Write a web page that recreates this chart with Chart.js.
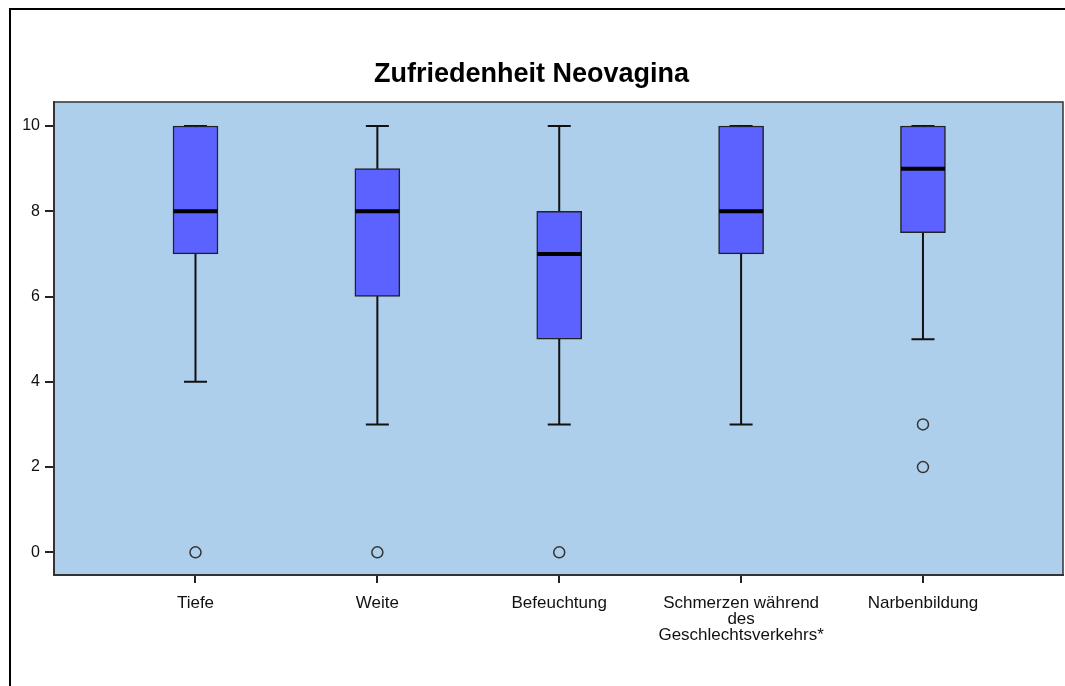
<!DOCTYPE html>
<html>
<head>
<meta charset="utf-8">
<script src="https://cdn.jsdelivr.net/npm/chart.js@4"></script>
<style>
    html, body { margin: 0; padding: 0; background: #fff; }
    #wrap { position: relative; width: 1065px; height: 686px; overflow: hidden; }
    #frame { position: absolute; left: 9px; top: 8px; width: 1100px; height: 700px;
             border-left: 2px solid #000; border-top: 2px solid #000; pointer-events: none; }
    canvas { position: absolute; left: 0; top: 0; }
</style>
</head>
<body>
<div id="wrap">
    <canvas id="boxChart" width="1065" height="686"></canvas>
    <div id="frame"></div>
</div>
<script>
// Data
const categories = ['Tiefe', 'Weite', 'Befeuchtung', ['Schmerzen während', 'des', 'Geschlechtsverkehrs*'], 'Narbenbildung'];
const whiskerLow  = [4, 3, 3, 3, 5];
const quartile1   = [7, 6, 5, 7, 7.5];
const medians     = [8, 8, 7, 8, 9];
const quartile3   = [10, 9, 8, 10, 10];
const whiskerHigh = [10, 10, 10, 10, 10];
// outliers: [category index, value]
const outliers = [[0, 0], [1, 0], [2, 0], [4, 3], [4, 2]];
const yTicks = [0, 2, 4, 6, 8, 10];

const PLOT_BG = '#aecfec';
const BOX_FILL = '#5b62ff';
const LINE = '#111';

// Background + frame of the plot area
const plotArea = {
    id: 'plotArea',
    beforeDraw(chart) {
        const { ctx, chartArea: a } = chart;
        ctx.save();
        ctx.fillStyle = PLOT_BG;
        ctx.fillRect(a.left, a.top, a.right - a.left, a.bottom - a.top);
        ctx.restore();
    },
    afterDraw(chart) {
        const { ctx, chartArea: a } = chart;
        ctx.save();
        ctx.strokeStyle = '#333';
        ctx.lineWidth = 1.5;
        ctx.beginPath();
        ctx.moveTo(a.left, a.top);
        ctx.lineTo(a.right, a.top);
        ctx.lineTo(a.right, a.bottom);
        ctx.stroke();
        ctx.restore();
    }
};

// Whiskers and medians, placed through the chart scales
const boxParts = {
    id: 'boxParts',
    beforeDatasetsDraw(chart) {
        const { ctx, scales: { x, y } } = chart;
        ctx.save();
        ctx.strokeStyle = LINE;
        ctx.lineWidth = 2;
        categories.forEach((c, i) => {
            const px = x.getPixelForValue(i + 1);
            const yLo = y.getPixelForValue(whiskerLow[i]);
            const yHi = y.getPixelForValue(whiskerHigh[i]);
            ctx.beginPath();
            ctx.moveTo(px, yLo);
            ctx.lineTo(px, yHi);
            ctx.moveTo(px - 11.5, yLo);
            ctx.lineTo(px + 11.5, yLo);
            ctx.moveTo(px - 11.5, yHi);
            ctx.lineTo(px + 11.5, yHi);
            ctx.stroke();
        });
        ctx.restore();
    },
    afterDatasetsDraw(chart) {
        const { ctx, scales: { x, y } } = chart;
        ctx.save();
        ctx.strokeStyle = '#000';
        ctx.lineWidth = 4;
        categories.forEach((c, i) => {
            const px = x.getPixelForValue(i + 1);
            const py = y.getPixelForValue(medians[i]);
            ctx.beginPath();
            ctx.moveTo(px - 22, py);
            ctx.lineTo(px + 22, py);
            ctx.stroke();
        });
        ctx.restore();
    }
};

const boxData = categories.map((c, i) => ({ x: i + 1, y: [quartile1[i], quartile3[i]] }));
const outlierData = outliers.map(o => ({ x: o[0] + 1, y: o[1] }));

new Chart(document.getElementById('boxChart').getContext('2d'), {
    type: 'bar',
    data: {
        datasets: [
            {
                type: 'scatter',
                data: outlierData,
                pointStyle: 'circle',
                pointRadius: 5.5,
                backgroundColor: 'rgba(0,0,0,0)',
                borderColor: '#333',
                borderWidth: 1.5,
                order: 0
            },
            {
                data: boxData,
                backgroundColor: BOX_FILL,
                borderColor: '#222',
                borderWidth: 1.5,
                borderSkipped: false,
                barThickness: 45,
                order: 1
            }
        ]
    },
    plugins: [plotArea, boxParts],
    options: {
        responsive: false,
        animation: false,
        layout: { autoPadding: false, padding: { left: 0, right: 2, top: 0, bottom: 0 } },
        plugins: {
            legend: { display: false },
            tooltip: { enabled: false },
            title: {
                display: true,
                text: 'Zufriedenheit Neovagina',
                color: '#000',
                font: { family: 'Liberation Sans, Arial, sans-serif', size: 27, weight: 'bold', lineHeight: 1.2 },
                padding: { top: 58, bottom: 11.6 }
            }
        },
        scales: {
            x: {
                type: 'linear',
                offset: false,
                min: 0.222,
                max: 5.77,
                afterBuildTicks: (scale) => { scale.ticks = categories.map((c, i) => ({ value: i + 1 })); },
                afterFit: (scale) => { scale.height = 111; },
                ticks: {
                    callback: (v) => categories[v - 1],
                    color: '#111',
                    font: { family: 'Liberation Sans, Arial, sans-serif', size: 17, lineHeight: 0.95 },
                    padding: 12,
                    maxRotation: 0,
                    autoSkip: false
                },
                grid: { offset: false, drawOnChartArea: false, drawTicks: true, tickLength: 8, color: '#222', lineWidth: 2 },
                border: { display: true, color: '#333', width: 2 }
            },
            y: {
                min: -0.532,
                max: 10.563,
                afterBuildTicks: (scale) => { scale.ticks = yTicks.map(v => ({ value: v })); },
                afterFit: (scale) => { scale.width = 54; },
                ticks: {
                    color: '#111',
                    font: { family: 'Liberation Sans, Arial, sans-serif', size: 16 },
                    padding: 5
                },
                grid: { drawOnChartArea: false, drawTicks: true, tickLength: 9, color: '#222', lineWidth: 2 },
                border: { display: true, color: '#333', width: 2 }
            }
        }
    }
});
</script>
</body>
</html>
